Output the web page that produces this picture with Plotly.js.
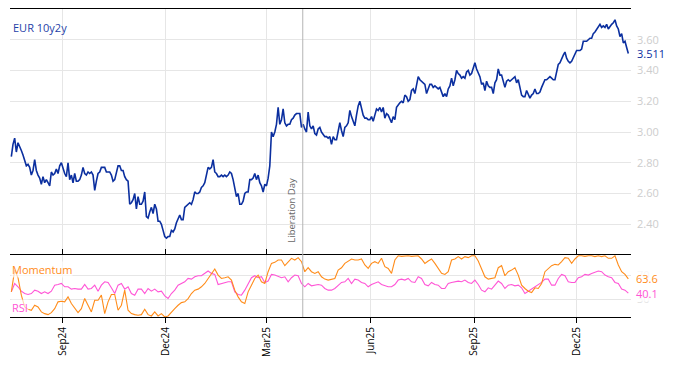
<!DOCTYPE html>
<html>
<head>
<meta charset="utf-8">
<script src="https://cdn.plot.ly/plotly-3.0.1.min.js"></script>
<style>html,body{margin:0;padding:0;background:#fff}#chart{width:674px;height:366px}</style>
</head>
<body>
<div id="chart"></div>
<script>
const startTime = Date.UTC(2024, 6, 17, 9, 20);
const stepDays = 1.4798;

// EUR 10y2y forward rate, one value per grid step
const eur10y2y = [
2.84,2.92,2.96,2.87,2.93,2.91,2.88,2.85,2.82,2.78,
2.79,2.77,2.72,2.75,2.82,2.75,2.72,2.70,2.66,2.71,
2.67,2.69,2.67,2.65,2.74,2.72,2.73,2.76,2.73,2.78,
2.80,2.76,2.73,2.71,2.80,2.69,2.72,2.67,2.73,2.68,
2.68,2.69,2.72,2.77,2.73,2.72,2.74,2.73,2.74,2.72,
2.62,2.68,2.73,2.74,2.77,2.77,2.77,2.74,2.74,2.74,
2.72,2.68,2.69,2.73,2.78,2.78,2.75,2.75,2.71,2.69,
2.68,2.53,2.54,2.56,2.60,2.50,2.58,2.53,2.53,2.55,
2.61,2.45,2.44,2.48,2.51,2.47,2.53,2.50,2.42,2.42,
2.40,2.36,2.32,2.31,2.32,2.32,2.36,2.35,2.37,2.41,
2.44,2.46,2.43,2.43,2.51,2.52,2.53,2.54,2.53,2.56,
2.61,2.60,2.60,2.61,2.64,2.65,2.67,2.72,2.77,2.76,
2.77,2.82,2.74,2.73,2.71,
2.71,2.72,2.71,2.72,2.71,2.72,2.74,2.73,2.69,2.64,
2.58,2.60,2.53,2.53,2.55,2.60,2.61,2.61,2.69,2.69,
2.70,2.73,2.69,2.72,2.67,2.65,2.61,2.66,2.65,2.70,
2.78,3.00,2.97,3.00,3.05,3.16,3.05,3.08,3.15,3.06,
3.04,3.05,3.05,3.08,3.09,3.11,3.12,3.12,3.12,3.03,
3.05,3.02,3.00,3.13,3.04,3.02,3.04,2.99,2.98,3.02,
3.03,3.00,2.98,2.97,2.97,2.96,2.97,2.92,2.97,2.95,
2.95,3.00,3.06,3.01,2.97,3.03,3.04,3.06,3.14,3.10,
3.07,3.04,3.11,3.17,3.20,3.16,3.11,3.09,3.09,3.08,
3.08,3.10,3.07,3.11,3.15,3.14,3.16,3.13,3.16,3.09,
3.12,3.11,3.09,3.06,3.10,3.08,3.16,3.18,3.19,3.20,
3.19,3.24,3.23,3.20,3.21,3.27,3.28,3.25,3.32,3.36,
3.34,
3.33,3.32,3.31,3.25,3.28,3.31,3.31,3.29,3.30,3.29,
3.28,3.29,3.26,3.23,3.25,3.23,3.28,3.30,3.35,3.30,
3.34,3.40,3.38,3.37,3.35,3.36,3.35,3.39,3.40,3.37,
3.38,3.42,3.45,3.41,3.39,3.36,3.31,3.32,3.27,3.33,
3.30,3.29,3.29,3.25,3.32,3.34,3.41,3.37,3.37,3.33,
3.29,3.33,3.34,3.33,3.34,3.35,3.36,3.32,3.34,3.29,
3.24,3.23,3.23,3.27,3.24,3.22,3.24,3.25,3.28,3.25,
3.25,3.26,3.29,3.31,3.34,3.34,3.35,3.36,3.35,3.34,
3.34,3.39,3.44,3.45,3.48,3.50,3.52,3.48,3.46,3.45,
3.46,3.48,3.50,3.53,3.53,3.53,3.54,3.59,3.59,3.59,
3.60,3.61,3.61,3.64,3.65,3.67,3.69,3.70,3.68,3.69,
3.68,3.70,3.67,3.69,3.70,3.71,3.73,3.69,3.67,3.62,
3.64,3.58,3.59,3.55,3.511
];

// Momentum and RSI, one value every second grid step
const momentum = [
42.2,78.3,65.6,36.7,17.2,13.3,11.7,20,17.2,8.9,
6.1,4.4,7.8,14.4,25.6,26.7,25.6,33.9,22.8,14.4,
7.8,14.4,31.1,20,8.9,28.3,28.3,36.7,6.1,25.6,
37.8,37.8,11.7,20,45,11.7,6.1,4.4,3.3,4.4,
13.3,4.4,2.2,8.9,2.2,6.1,0.6,2.2,8.9,14.4,
20,24.4,25.6,31.1,39.4,45,46.7,50.6,56.1,64.4,
72.8,80,70,64.4,65.6,67.2,61.7,45,33.9,25.6,
22.8,42.2,53.3,64.4,70,58.9,56.1,75.6,89.4,91.1,
95,95,85.6,92.2,97.8,95,98.9,92.2,75.6,82.2,
75.6,72.8,75.6,
67.2,63.3,61.7,62.8,64.4,78.3,82.2,89.4,93.3,96.7,
95,95,96.7,86.7,81.1,89.4,92.2,89.4,97.8,83.9,
81.1,72.8,95,102,101,102,102,101,102,102,
96.7,89.4,93.3,96.7,89.4,80,72.8,71.1,75.6,95,
96.7,100.6,96.7,100.6,98.9,102,102,93.3,81.1,67.2,
63.3,64.4,65.6,82.2,85.6,68.9,75.6,78.3,82.2,70,
53.3,47.8,43.3,41.1,48.9,47.8,56.1,75.6,81.1,85.6,
87.8,86.7,92.2,98.9,97.8,89.4,96.7,102,102,101,
102,102,100.6,102,100.6,102,97.8,97.8,102,86.7,
75.6,71.1,63.6
];
const rsi = [
42.2,56.1,50.6,43.3,39.4,37.8,39.4,45,43.3,39.4,
42.2,39.4,43.3,53.3,54.4,56.1,50.6,50.6,46.7,47.8,
46.7,46.7,54.4,46.7,47.8,53.3,43.3,53.3,58.9,57.8,
48.9,39.4,53.3,56.1,46.7,50.6,39.4,36.7,46.7,46.7,
39.4,47.8,43.3,46.7,42.2,43.3,35.6,31.1,39.4,45,
53.3,56.1,58.9,64.4,63.3,67.2,68.9,68.9,72.8,76.7,
72.8,71.1,54.4,56.1,57.8,58.9,58.9,42.2,37.8,36.7,
45,56.1,65.6,68.9,65.6,67.2,57.8,60,71.1,70,
67.2,65.6,67.2,58.9,65.6,70,68.9,56.1,50.6,56.1,
52.2,53.3,54.4,
53.3,47.8,45,45,47.8,53.3,57.8,58.9,64.4,56.1,
63.3,61.7,57.8,56.1,50.6,54.4,56.1,58.9,54.4,52.2,
50.6,50.6,54.4,61.7,63.3,61.7,64.4,58.9,57.8,67.2,
64.4,54.4,52.2,57.8,54.4,53.3,47.8,47.8,56.1,57.8,
58.9,60,58.9,61.7,57.8,56.1,61.7,54.4,45,42.2,
48.9,46.7,53.3,60,56.1,47.8,53.3,54.4,52.2,53.3,
48.9,39.4,43.3,46.7,50.6,53.3,57.8,63.3,63.3,53.3,
53.3,64.4,71.1,68.9,58.9,57.8,57.8,65.6,67.2,71.1,
70,72.8,74.4,76.7,75.6,70,67.2,65.6,57.8,56.1,
46.7,45,40.1
];

const rateTicks = [2.4, 2.6, 2.8, 3.0, 3.2, 3.4, 3.6];
const oscTicks = [30, 70];
const eventDate = '2025-04-02';
const eventLabel = 'Liberation Day';

function gridDate(i) {
  const d = new Date(startTime + i * stepDays * 86400000);
  return d.toISOString().slice(0, 19).replace('T', ' ');
}
const datesMain = eur10y2y.map((_, i) => gridDate(i));
const datesOsc = momentum.map((_, j) => gridDate(2 * j));

const BLUE = '#0b2f9f', ORANGE = '#ff8c1a', PINK = '#ff55d6';
const FONT = 'Open Sans, Liberation Sans, sans-serif';
const GRID = '#e6e6e6';

const traces = [
  {x: datesMain, y: eur10y2y, xaxis: 'x', yaxis: 'y', type: 'scatter', mode: 'lines',
   line: {color: BLUE, width: 1.6}, hoverinfo: 'skip'},
  {x: datesOsc, y: rsi, xaxis: 'x2', yaxis: 'y2', type: 'scatter', mode: 'lines',
   line: {color: PINK, width: 1.1}, hoverinfo: 'skip'},
  {x: datesOsc, y: momentum, xaxis: 'x2', yaxis: 'y2', type: 'scatter', mode: 'lines',
   line: {color: ORANGE, width: 1.1}, hoverinfo: 'skip'}
];

const xRange = ['2024-07-16 05:00', '2026-01-18 07:00'];
const split = 62 / 308;

const layout = {
  width: 674, height: 366,
  margin: {l: 10, r: 43, t: 9, b: 49, pad: 0},
  paper_bgcolor: '#fff', plot_bgcolor: '#fff',
  showlegend: false,
  font: {family: FONT, size: 11, color: '#000'},
  xaxis: {
    type: 'date', range: xRange, domain: [0, 1], anchor: 'y', side: 'top',
    showline: true, linecolor: '#000', linewidth: 1,
    ticks: '', showticklabels: false,
    showgrid: true, gridcolor: GRID, gridwidth: 1,
    dtick: 'M3', tick0: '2024-09-01', zeroline: false
  },
  xaxis2: {
    type: 'date', matches: 'x', domain: [0, 1], anchor: 'y2',
    showline: true, linecolor: '#000', linewidth: 1, mirror: 'ticks',
    ticks: 'outside', ticklen: 5, tickcolor: '#000', tickwidth: 1,
    tickangle: -90, tickformat: '%b%y', dtick: 'M3', tick0: '2024-09-01',
    tickfont: {family: FONT, size: 10, color: '#000'},
    showgrid: true, gridcolor: GRID, gridwidth: 1, zeroline: false
  },
  yaxis: {
    domain: [split, 1], anchor: 'x', side: 'right', range: [2.2, 3.8],
    tickvals: rateTicks, ticktext: rateTicks.map(v => v.toFixed(2)),
    tickfont: {family: FONT, size: 11, color: '#cdcdcd'},
    ticks: '', ticklabelstandoff: 5,
    showgrid: true, gridcolor: GRID, gridwidth: 1, zeroline: false, showline: false
  },
  yaxis2: {
    domain: [0, split], anchor: 'x2', side: 'right', range: [0.5, 103.3],
    tickvals: oscTicks, ticktext: oscTicks.map(String),
    tickfont: {family: FONT, size: 11, color: '#e2e2e2'},
    ticks: '', ticklabelstandoff: 5,
    showgrid: true, gridcolor: GRID, gridwidth: 1, zeroline: false, showline: false
  },
  shapes: [
    {type: 'line', xref: 'x', yref: 'paper', x0: eventDate, x1: eventDate, y0: 0, y1: 1,
     line: {color: '#b4b4b4', width: 1}}
  ],
  annotations: [
    {text: 'EUR 10y2y', xref: 'paper', yref: 'paper', x: 0, y: 1, xanchor: 'left', yanchor: 'top',
     xshift: 1, yshift: -9, showarrow: false, font: {family: FONT, size: 11, color: '#1f3fa8'}},
    {text: 'Momentum', xref: 'paper', yref: 'y2', x: 0, y: 80, xanchor: 'left', yanchor: 'middle',
     xshift: 1, showarrow: false, bgcolor: 'rgba(255,255,255,0.65)', borderpad: 0,
     font: {family: FONT, size: 11, color: ORANGE}},
    {text: 'RSI', xref: 'paper', yref: 'y2', x: 0, y: 17, xanchor: 'left', yanchor: 'middle',
     xshift: 1, showarrow: false, bgcolor: 'rgba(255,255,255,0.65)', borderpad: 0,
     font: {family: FONT, size: 11, color: PINK}},
    {text: eur10y2y[eur10y2y.length - 1].toFixed(3), xref: 'paper', yref: 'y',
     x: 1, y: eur10y2y[eur10y2y.length - 1], xanchor: 'left', yanchor: 'middle', xshift: 4,
     showarrow: false, font: {family: FONT, size: 11, color: BLUE}},
    {text: momentum[momentum.length - 1].toFixed(1), xref: 'paper', yref: 'y2',
     x: 1, y: momentum[momentum.length - 1], xanchor: 'left', yanchor: 'middle', xshift: 4,
     showarrow: false, bgcolor: 'rgba(255,255,255,0.7)', borderpad: 0,
     font: {family: FONT, size: 11, color: ORANGE}},
    {text: rsi[rsi.length - 1].toFixed(1), xref: 'paper', yref: 'y2',
     x: 1, y: rsi[rsi.length - 1], xanchor: 'left', yanchor: 'middle', xshift: 4,
     showarrow: false, bgcolor: 'rgba(255,255,255,0.7)', borderpad: 0,
     font: {family: FONT, size: 11, color: PINK}},
    {text: eventLabel, xref: 'x', yref: 'y', x: eventDate, y: 2.49, textangle: -90,
     xanchor: 'right', yanchor: 'middle', xshift: -3, showarrow: false,
     font: {family: FONT, size: 9.5, color: '#666'}}
  ]
};

Plotly.newPlot('chart', traces, layout, {staticPlot: true, displayModeBar: false});
</script>
</body>
</html>
